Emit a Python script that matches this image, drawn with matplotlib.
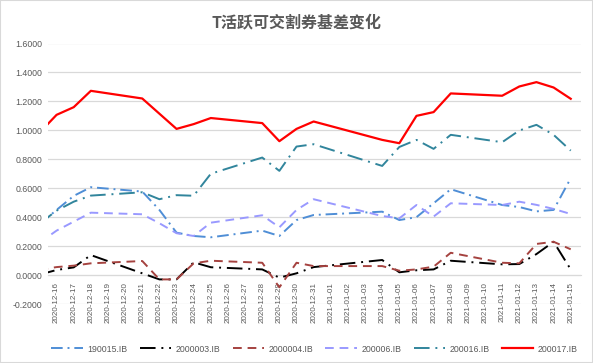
import numpy as np
import pandas as pd
import matplotlib
matplotlib.use("Agg")
import matplotlib.pyplot as plt
from matplotlib.patches import Rectangle

# 交易日 (12-15 在坐标轴范围之外, 只露出一小段线)
dates = ["2020-12-15", "2020-12-16", "2020-12-17", "2020-12-18", "2020-12-21",
         "2020-12-22", "2020-12-23", "2020-12-24", "2020-12-25", "2020-12-28",
         "2020-12-29", "2020-12-30", "2020-12-31", "2021-01-04", "2021-01-05",
         "2021-01-06", "2021-01-07", "2021-01-08", "2021-01-11", "2021-01-12",
         "2021-01-13", "2021-01-14", "2021-01-15"]

b190015 = [0.350, 0.450, 0.547, 0.607, 0.577, 0.450, 0.293, 0.270, 0.261, 0.307,
           0.270, 0.380, 0.415, 0.438, 0.380, 0.400, 0.496, 0.593, 0.484, 0.470,
           0.440, 0.450, 0.669]
b2000003 = [0.003, 0.035, 0.053, 0.138, 0.012, -0.030, -0.030, 0.088, 0.054, 0.039,
            -0.018, 0.012, 0.055, 0.104, 0.019, 0.033, 0.039, 0.099, 0.074, 0.076,
            0.145, 0.230, 0.039]
b2000004 = [0.037, 0.055, 0.065, 0.081, 0.097, -0.030, -0.030, 0.081, 0.099, 0.085,
            -0.085, 0.085, 0.062, 0.062, 0.030, 0.039, 0.058, 0.154, 0.085, 0.081,
            0.215, 0.230, 0.178]
b200006 = [0.223, 0.307, 0.369, 0.431, 0.420, 0.358, 0.289, 0.270, 0.362, 0.413,
           0.330, 0.450, 0.524, 0.408, 0.392, 0.484, 0.404, 0.496, 0.484, 0.507,
           0.485, 0.457, 0.422]
b200016 = [0.355, 0.445, 0.507, 0.549, 0.572, 0.524, 0.552, 0.548, 0.700, 0.812,
           0.720, 0.888, 0.904, 0.754, 0.885, 0.934, 0.872, 0.969, 0.918, 0.999,
           1.038, 0.969, 0.860]
b200017 = [0.983, 1.107, 1.160, 1.273, 1.220, 1.115, 1.010, 1.043, 1.085, 1.050,
           0.925, 1.010, 1.061, 0.934, 0.911, 1.100, 1.126, 1.255, 1.239, 1.303,
           1.333, 1.296, 1.218]

names = ["190015.IB", "2000003.IB", "2000004.IB", "200006.IB", "200016.IB", "200017.IB"]
colors = ["#4F8ED6", "#000000", "#A5423F", "#9999FF", "#31859C", "#FF0000"]
styles = [(0, (6, 2.5, 1, 2.5)), (0, (8, 3, 1, 3)), (0, (4.5, 3)),
          (0, (4.5, 3)), (0, (8, 3, 1, 3)), "-"]
widths = [1.4, 1.4, 1.4, 1.4, 1.4, 1.6]

start = pd.Timestamp("2020-12-16")
x = (pd.to_datetime(dates) - start).days.values
tick_days = pd.date_range("2020-12-16", "2021-01-15", freq="D")
tick_pos = (tick_days - start).days.values
tick_lbl = [d.strftime("%Y-%m-%d") for d in tick_days]

plt.rcParams['font.family'] = ['Liberation Sans', 'Noto Sans CJK SC', 'DejaVu Sans']

fig = plt.figure(figsize=(5.93, 3.63), dpi=100)
ax = fig.add_axes([48 / 593, 59 / 363, 533 / 593, 260.5 / 363])

series = [b190015, b2000003, b2000004, b200006, b200016, b200017]
for vals, nm, c, ls, lw in zip(series, names, colors, styles, widths):
    ax.plot(x, vals, color=c, linestyle=ls, linewidth=lw, label=nm, zorder=3)

# 横轴放在 0 处
ax.spines['bottom'].set_position(('data', 0))
ax.spines['bottom'].set_color("#D9D9D9")
for s in ['top', 'right', 'left']:
    ax.spines[s].set_visible(False)

ax.set_xlim(-0.5, 30.6)
ax.set_ylim(-0.2, 1.6)
yt = np.arange(-0.2, 1.61, 0.2)
ax.set_yticks(yt)
ax.set_yticklabels([f"{v:.4f}" for v in yt])
ax.yaxis.grid(True, color="#D9D9D9", linewidth=0.9)
ax.set_axisbelow(True)

ax.set_xticks(tick_pos)
ax.set_xticklabels(tick_lbl)
ax.tick_params(axis='x', length=0, pad=5, labelrotation=90, labelsize=5.8,
               labelcolor="#595959")
ax.tick_params(axis='y', length=0, pad=4, labelsize=6.3, labelcolor="#595959")

fig.text(0.5, 1 - 22.5 / 363, "T活跃可交割券基差变化", ha="center", va="center",
         fontsize=11.5, fontweight="bold", color="#595959",
         family=['Noto Sans CJK SC', 'DejaVu Sans'])

ax.legend(loc="center", bbox_to_anchor=(0.5, (363 - 349 - 59) / 260.5),
          bbox_transform=ax.transAxes, ncol=6, frameon=False, fontsize=6.3,
          handlelength=3.6, handletextpad=0.5, columnspacing=1.4,
          labelcolor="#595959")

fig.patches.append(Rectangle((0, 0), 1, 1, transform=fig.transFigure, fill=False,
                             edgecolor="#D9D9D9", linewidth=1.5))

fig.savefig("out.png", dpi=100)
